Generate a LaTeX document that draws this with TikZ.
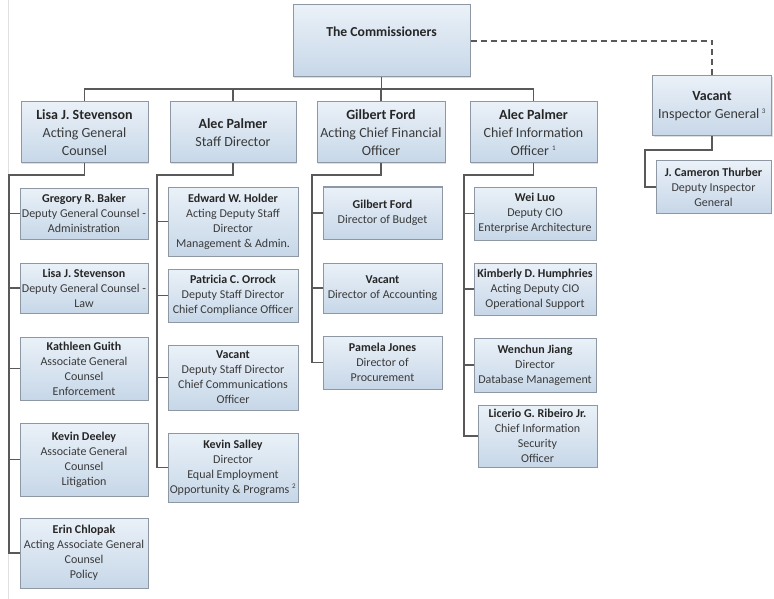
\documentclass[tikz,border=0pt]{standalone}
\usepackage{fontspec}
\setmainfont{Carlito}
\usetikzlibrary{shadows}
\definecolor{boxtop}{HTML}{EAF1F8}
\definecolor{boxbot}{HTML}{C7D7E8}
\definecolor{boxline}{HTML}{8D98A4}
\definecolor{linkgray}{HTML}{595959}
\definecolor{txtgray}{HTML}{3A3A3A}
\newcommand{\who}[1]{\textbf{\color{black!85}#1}}
\newcommand{\fn}[1]{\textsuperscript{\fontsize{7}{7}\selectfont #1}}

\begin{document}
\begin{tikzpicture}[x=1pt, y=-1pt,
    box/.style={draw=boxline, line width=1pt, top color=boxtop, bottom color=boxbot,
      align=center, inner sep=1pt, text=txtgray,
      drop shadow={opacity=0.25, shadow xshift=1.2pt, shadow yshift=-1.2pt}},
    head/.style={box, font=\fontsize{14}{18}\selectfont, minimum width=#1, minimum height=61pt},
    kid/.style={box, font=\fontsize{12}{15}\selectfont, minimum width=#1},
    link/.style={draw=linkgray, line width=1.3pt}]
  \useasboundingbox (0,0) rectangle (774,599);
  \draw[black!12] (8,0) -- (8,599);

  \node[box, font=\fontsize{13.7}{18}\selectfont, minimum width=177pt, minimum height=72pt] (comm) at (381.5,41) {\who{The Commissioners}\\~};

  \node[head=127pt] (lisa) at (84.5,132.5) {\who{Lisa J. Stevenson}\\Acting General\\Counsel};
  \node[head=126pt] (staff) at (233,132.5) {\who{Alec Palmer}\\Staff Director};
  \node[head=128pt] (cfo) at (381,132.5) {\who{Gilbert Ford}\\Acting Chief Financial\\Officer};
  \node[head=127pt] (cio) at (533.5,132.5) {\who{Alec Palmer}\\Chief Information\\Officer \fn{1}};
  \node[head=119pt, minimum height=60pt] (ig) at (712,106) {\who{Vacant}\\Inspector General\,\fn{3}};

  \node[kid=128pt, minimum height=51pt] (baker) at (84,213.5) {\who{Gregory R. Baker}\\Deputy General Counsel -\\Administration};
  \node[kid=128pt, minimum height=50pt] (stevenson) at (84,288) {\who{Lisa J. Stevenson}\\Deputy General Counsel -\\Law};
  \node[kid=128pt, minimum height=63pt] (guith) at (84,368.5) {\who{Kathleen Guith}\\Associate General\\Counsel\\Enforcement};
  \node[kid=128pt, minimum height=73pt] (deeley) at (84,459.5) {\who{Kevin Deeley}\\Associate General\\Counsel\\Litigation};
  \node[kid=128pt, minimum height=70pt] (chlopak) at (84,553) {\who{Erin Chlopak}\\Acting Associate General\\Counsel\\Policy};

  \node[kid=130pt, minimum height=69pt] (holder) at (233,221.5) {\who{Edward W. Holder}\\Acting Deputy Staff\\Director\\Management \& Admin.};
  \node[kid=130pt, minimum height=53pt] (orrock) at (233,295.5) {\who{Patricia C. Orrock}\\Deputy Staff Director\\Chief Compliance Officer};
  \node[kid=130pt, minimum height=65pt] (comms) at (233,377.5) {\who{Vacant}\\Deputy Staff Director\\Chief Communications\\Officer};
  \node[kid=130pt, minimum height=69pt] (salley) at (233,467.5) {\who{Kevin Salley}\\Director\\Equal Employment\\Opportunity \& Programs \fn{2}};

  \node[kid=119pt, minimum height=52pt] (budget) at (382.5,213) {\who{Gilbert Ford}\\Director of Budget};
  \node[kid=119pt, minimum height=50pt] (accounting) at (382.5,288) {\who{Vacant}\\Director of Accounting};
  \node[kid=119pt, minimum height=53pt] (procure) at (382.5,362.5) {\who{Pamela Jones}\\Director of\\Procurement};

  \node[kid=122pt, minimum height=53pt] (luo) at (535,213.5) {\who{Wei Luo}\\Deputy CIO\\Enterprise Architecture};
  \node[kid=122pt, minimum height=52pt] (humphries) at (535,289) {\who{Kimberly D. Humphries}\\Acting Deputy CIO\\Operational Support};
  \node[kid=122pt, minimum height=54pt] (jiang) at (535,365) {\who{Wenchun Jiang}\\Director\\Database Management};
  \node[kid=119pt, minimum height=62pt] (ribeiro) at (537.5,436) {\who{Licerio G. Ribeiro Jr.}\\Chief Information\\Security\\Officer};

  \node[kid=115pt, minimum height=52pt] (thurber) at (713.5,187) {\who{J. Cameron Thurber}\\Deputy Inspector\\General};

  \coordinate (bus) at (381.5,89);
  \coordinate (lisaspine) at (9,175);
  \coordinate (staffspine) at (157,175);
  \coordinate (cfospine) at (312,175);
  \coordinate (ciospine) at (464,175);
  \coordinate (igspine) at (645,150);

  \draw[link] (comm.south) -- (bus);
  \draw[link] (lisa.north) |- (bus) -| (cio.north);
  \draw[link] (staff.north) -- (staff.north |- bus);
  \draw[link] (cfo.north) -- (cfo.north |- bus);
  \draw[link, dash pattern=on 6pt off 4pt] (comm.east) -| (ig.north);

  \draw[link] (lisa.south) |- (lisaspine) |- (chlopak.west);
  \foreach \n in {baker,stevenson,guith,deeley}
    \draw[link] (lisaspine) |- (\n.west);
  \draw[link] (staff.south) |- (staffspine) |- (salley.west);
  \foreach \n in {holder,orrock,comms}
    \draw[link] (staffspine) |- (\n.west);
  \draw[link] (cfo.south) |- (cfospine) |- (procure.west);
  \foreach \n in {budget,accounting}
    \draw[link] (cfospine) |- (\n.west);
  \draw[link] (cio.south) |- (ciospine) |- (ribeiro.west);
  \foreach \n in {luo,humphries,jiang}
    \draw[link] (ciospine) |- (\n.west);
  \draw[link] (ig.south) |- (igspine) |- (thurber.west);
\end{tikzpicture}
\end{document}
